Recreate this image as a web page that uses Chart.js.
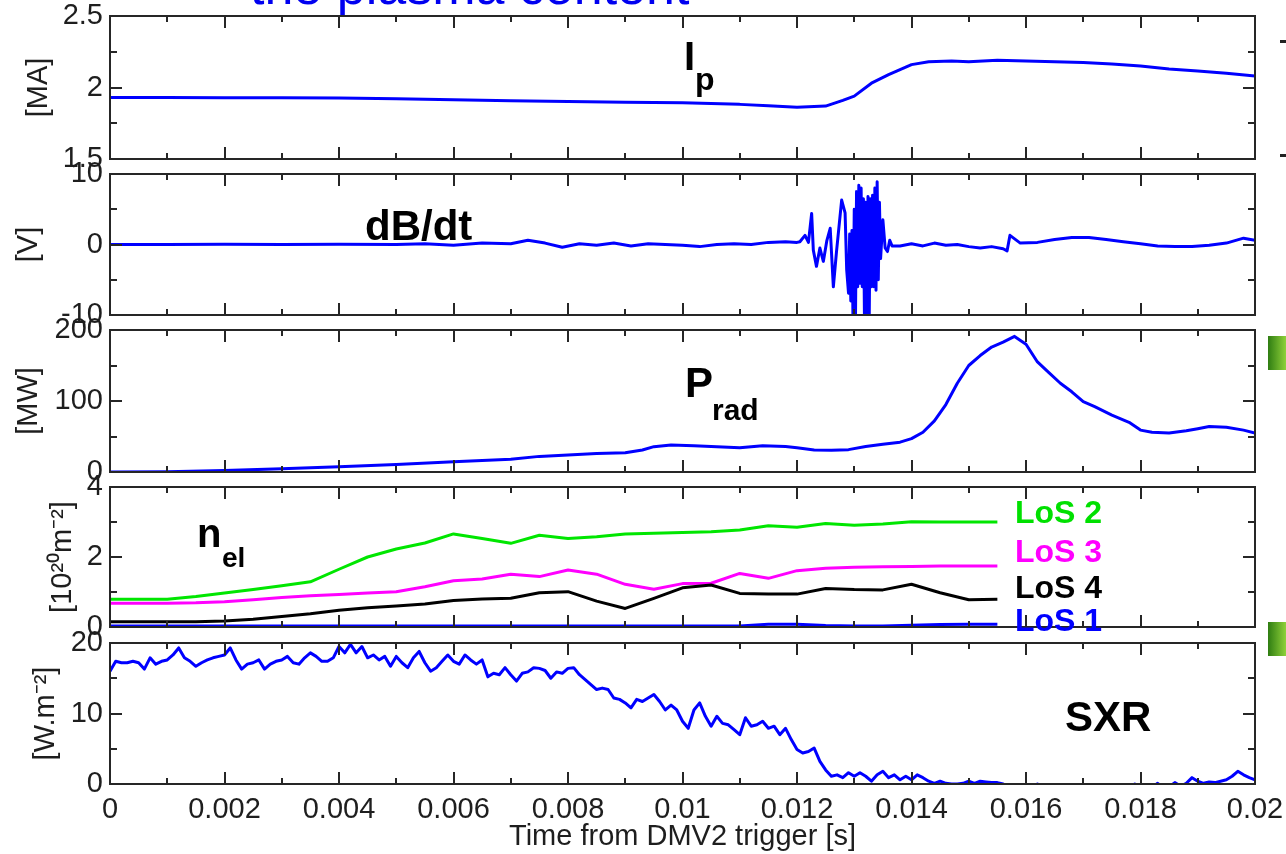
<!DOCTYPE html>
<html>
<head>
<meta charset="utf-8">
<title>DMV2 trigger traces</title>
<script src="https://cdn.jsdelivr.net/npm/chart.js@4.4.1/dist/chart.umd.min.js"></script>
<style>
  html, body { margin: 0; padding: 0; background: #fff; }
  #page { position: relative; width: 1286px; height: 854px; overflow: hidden; background: #fff; }
  #page canvas { position: absolute; left: 0; }
  .slideTitle { position: absolute; left: 250px; top: -40px; font: 52px/52px "Liberation Sans", Arial, sans-serif; color: #0000f0; white-space: nowrap; }
  .dash { position: absolute; left: 1280px; width: 6px; height: 3px; background: #222; }
  .greenTab { position: absolute; left: 1268px; width: 18px; height: 34px; background: linear-gradient(to right, #2f7d12, #8fd13a); }
</style>
</head>
<body>
<div id="page">
  <div class="slideTitle">the plasma content</div>
  <div class="dash" style="top:40px"></div>
  <div class="dash" style="top:154px"></div>
  <div class="greenTab" style="top:336px"></div>
  <div class="greenTab" style="top:622px"></div>
</div>
<script>
// time axis, shared by all panels
const xTickLabels = ["0", "0.002", "0.004", "0.006", "0.008", "0.01", "0.012", "0.014", "0.016", "0.018", "0.02"];

// plasma current
const ipTime = [0, 0.001, 0.002, 0.003, 0.004, 0.005, 0.006, 0.007, 0.008, 0.009, 0.010, 0.011, 0.0115, 0.012, 0.0125, 0.0128, 0.013, 0.0133, 0.0136, 0.014, 0.0143, 0.0147, 0.015, 0.0155, 0.016, 0.0165, 0.017, 0.0175, 0.018, 0.0185, 0.019, 0.0195, 0.020];
const ipCurrent = [1.93, 1.93, 1.929, 1.928, 1.926, 1.922, 1.915, 1.908, 1.902, 1.897, 1.893, 1.882, 1.872, 1.862, 1.87, 1.91, 1.94, 2.03, 2.09, 2.16, 2.18, 2.185, 2.18, 2.19, 2.185, 2.18, 2.175, 2.165, 2.15, 2.13, 2.115, 2.10, 2.08];
const ipTickValues = [1.5, 2, 2.5];
const ipTickLabels = ["1.5", "2", "2.5"];

// dB/dt pick-up coil
const dbdtTime = [0, 0.001, 0.002, 0.003, 0.004, 0.005, 0.0055, 0.006, 0.0065, 0.007, 0.0073, 0.0076, 0.0079, 0.0082, 0.0085, 0.0088, 0.0091, 0.0094, 0.0097, 0.010, 0.0103, 0.0106, 0.0109, 0.0112, 0.0115, 0.0118, 0.012,
  0.01205, 0.01214, 0.0122, 0.012256, 0.012285, 0.01234, 0.0124, 0.01246, 0.01252, 0.01258, 0.012635, 0.01269, 0.01278, 0.01284, 0.012868,
  0.0129, 0.01292, 0.01294, 0.01296, 0.01298, 0.0130, 0.01302, 0.01304, 0.01306, 0.01308, 0.0131, 0.01312, 0.01314, 0.01316, 0.01318, 0.0132, 0.01322, 0.01324, 0.01326, 0.01328, 0.0133, 0.01332, 0.01334, 0.01336, 0.01338, 0.0134, 0.01342, 0.01344, 0.01346, 0.0135, 0.01354, 0.01358, 0.01362, 0.01366,
  0.0138, 0.014, 0.0142, 0.0144, 0.0146, 0.0148, 0.015, 0.0152, 0.0154, 0.0156, 0.01567, 0.01572, 0.0159, 0.0162, 0.0165, 0.0168, 0.0171, 0.0174, 0.0177, 0.018, 0.0183, 0.0186, 0.0189, 0.0192, 0.0195, 0.0198, 0.020];
const dbdtVolt = [0, 0, 0.05, 0, 0.05, 0, 0.1, -0.1, 0.2, 0.1, 0.6, 0.2, -0.4, 0.1, -0.1, 0.2, -0.2, 0.1, 0, -0.1, -0.3, 0, 0.1, 0, 0.3, 0.4, 0.3,
  0.4, 1.3, 0.3, 4.4, -0.8, -3.1, -0.5, -2.4, 0.5, 2.3, -6.0, -1.0, 6.3, 4.5, -3.6,
  -6.9, 1.5, -8, 2.0, -12, 5, -12, 7.5, -6, 8.4, -5.5, 8, -6, 6.5, -12, 6, -12, 6.8, -12, 6.5, -6, 7, -6, 8, -6.5, 8.9, -5, 6, -2, 3.5, -0.5, -1.0, 0.6, -0.2,
  -0.2, 0.1, -0.2, 0.2, -0.1, 0, -0.3, -0.5, -0.3, -0.6, -0.9, 1.3, 0.2, 0.3, 0.7, 1.0, 1.0, 0.7, 0.4, 0.1, -0.2, -0.3, -0.3, -0.1, 0.2, 0.9, 0.6];
const dbdtTickValues = [-10, 0, 10];
const dbdtTickLabels = ["-10", "0", "10"];

// radiated power
const pradTime = [0, 0.001, 0.002, 0.003, 0.004, 0.005, 0.006, 0.007, 0.0075, 0.008, 0.0085, 0.009, 0.0093, 0.0095, 0.0098, 0.0102, 0.0106, 0.011, 0.0114, 0.0118, 0.012, 0.0123, 0.0126, 0.0129, 0.0132, 0.0135, 0.0138, 0.014, 0.0142, 0.0144, 0.0146, 0.0148, 0.015, 0.0152, 0.0154, 0.0156, 0.0158, 0.016, 0.0162, 0.0164, 0.0166, 0.0168, 0.017, 0.0172, 0.0175, 0.0178, 0.018, 0.0182, 0.0185, 0.0188, 0.019, 0.0192, 0.0195, 0.0198, 0.020];
const pradPower = [0, 0.5, 2, 4.5, 7.5, 10.5, 14.5, 18, 22, 24, 26, 27, 31, 35.7, 38, 37, 35.5, 34, 37, 36, 34, 31, 30.5, 31.5, 36, 39, 42, 47, 56, 72, 95, 125, 150, 164, 176, 183, 191, 180, 155, 140, 125, 113, 99, 92, 80, 70, 59, 56, 55, 58, 61, 64, 63, 59, 55];
const pradTickValues = [0, 100, 200];
const pradTickLabels = ["0", "100", "200"];

// line-integrated density, four lines of sight
const nelTime = [0, 0.0005, 0.001, 0.0015, 0.002, 0.0025, 0.003, 0.0035, 0.004, 0.0045, 0.005, 0.0055, 0.006, 0.0065, 0.007, 0.0075, 0.008, 0.0085, 0.009, 0.0095, 0.010, 0.0105, 0.011, 0.0115, 0.012, 0.0125, 0.013, 0.0135, 0.014, 0.0145, 0.015, 0.0155];
const los2 = [0.79, 0.79, 0.79, 0.87, 0.97, 1.07, 1.18, 1.29, 1.65, 2.0, 2.23, 2.4, 2.66, 2.53, 2.39, 2.62, 2.53, 2.58, 2.66, 2.68, 2.70, 2.72, 2.77, 2.89, 2.85, 2.96, 2.91, 2.94, 3.01, 3.0, 3.0, 3.0];
const los3 = [0.68, 0.68, 0.68, 0.69, 0.72, 0.78, 0.84, 0.89, 0.93, 0.97, 1.01, 1.15, 1.32, 1.37, 1.51, 1.44, 1.63, 1.51, 1.22, 1.08, 1.24, 1.25, 1.53, 1.39, 1.61, 1.68, 1.71, 1.72, 1.73, 1.74, 1.74, 1.74];
const los4 = [0.15, 0.15, 0.15, 0.15, 0.17, 0.22, 0.30, 0.38, 0.48, 0.55, 0.60, 0.66, 0.76, 0.80, 0.82, 0.98, 1.01, 0.74, 0.53, 0.82, 1.12, 1.20, 0.96, 0.94, 0.94, 1.10, 1.07, 1.06, 1.22, 0.98, 0.78, 0.79];
const los1 = [0.03, 0.03, 0.03, 0.03, 0.03, 0.03, 0.03, 0.03, 0.03, 0.03, 0.03, 0.03, 0.03, 0.03, 0.03, 0.03, 0.03, 0.03, 0.03, 0.03, 0.03, 0.03, 0.03, 0.08, 0.08, 0.04, 0.03, 0.03, 0.05, 0.07, 0.08, 0.08];
const nelTickValues = [0, 2, 4];
const nelTickLabels = ["0", "2", "4"];

// soft X-ray, sampled every 0.1 ms
const sxrStep = 0.0001;
const sxrSignal = [
  16.0, 17.4, 17.2, 17.2, 17.4, 17.2, 16.3, 17.9, 17.0, 17.4,
  17.6, 18.3, 19.3, 17.9, 17.4, 16.7, 17.2, 17.6, 17.9, 18.1,
  18.3, 19.3, 17.6, 16.3, 17.0, 17.2, 17.6, 16.3, 17.0, 17.4,
  17.6, 18.1, 17.2, 17.0, 17.9, 18.6, 18.1, 17.4, 17.4, 17.9,
  19.5, 18.6, 19.8, 18.6, 19.5, 17.9, 18.3, 17.6, 18.1, 16.7,
  18.1, 17.2, 16.5, 17.9, 18.8, 17.2, 16.0, 16.5, 17.4, 18.3,
  17.4, 17.0, 18.3, 17.6, 17.0, 17.6, 15.2, 15.7, 15.5, 16.5,
  15.5, 14.6, 15.7, 15.9, 16.5, 16.4, 16.1, 15.0, 15.9, 15.7,
  16.4, 16.5, 15.5, 14.8, 14.1, 13.4, 13.6, 13.4, 12.2, 12.0,
  11.5, 10.8, 12.0, 11.7, 12.2, 12.7, 11.7, 10.5, 11.2, 10.5,
  8.9, 7.9, 10.5, 11.5, 9.6, 8.2, 9.6, 8.6, 8.4, 7.7,
  7.0, 9.4, 8.2, 8.4, 8.9, 7.9, 8.2, 7.0, 7.9, 6.3,
  4.9, 4.4, 4.6, 5.1, 3.2, 2.0, 1.1, 1.3, 0.9, 1.6,
  1.1, 1.6, 1.1, 0.4, 1.3, 1.8, 0.9, 1.3, 0.6, 1.1,
  0.6, 1.3, 0.9, 0.4, 0.1, 0.4, 0.1, 0, 0, 0.1,
  0.4, 0.1, 0.4, 0.3, 0.2, 0.2, 0, -0.6, -0.4, -0.7,
  -0.5, -0.6, 0, -0.6, -0.8, -0.5, -0.7, -0.6, -0.8, -0.5,
  -0.6, -0.1, -0.6, -0.8, -0.5, -0.7, -0.6, -0.8, -0.5, 0,
  -0.6, -0.7, -0.5, 0.1, -0.6, -0.4, 0.2, -0.3, 0.1, 0.9,
  0.4, 0.1, 0.3, 0.2, 0.4, 0.6, 1.1, 1.8, 1.3, 0.9,
  0.6
];
const sxrTickValues = [0, 10, 20];
const sxrTickLabels = ["0", "10", "20"];

const FONT = '"Liberation Sans", Arial, sans-serif';
Chart.defaults.font.family = FONT;
Chart.defaults.color = "#1e1e1e";
Chart.defaults.animation = false;

const BLUE = "#0000ff";
const pts = (xs, ys) => xs.map((x, i) => ({ x: x, y: ys[i] }));

const panels = [
  {
    top: 16, bottom: 159, yMin: 1.5, yMax: 2.5, yStep: 0.25,
    tickValues: ipTickValues, tickLabels: ipTickLabels, unit: "[MA]", unitPad: 22,
    series: [{ data: pts(ipTime, ipCurrent), color: BLUE }],
    notes: [
      { text: "I", x: 684, y: 70, font: "bold 40px " + FONT },
      { text: "p", x: 695, y: 90, font: "bold 32px " + FONT }
    ]
  },
  {
    top: 174, bottom: 315, yMin: -10, yMax: 10, yStep: 5,
    tickValues: dbdtTickValues, tickLabels: dbdtTickLabels, unit: "[V]", unitPad: 12,
    series: [{ data: pts(dbdtTime, dbdtVolt), color: BLUE }],
    notes: [{ text: "dB/dt", x: 365, y: 240, font: "bold 42px " + FONT }]
  },
  {
    top: 330, bottom: 472, yMin: 0, yMax: 200, yStep: 50,
    tickValues: pradTickValues, tickLabels: pradTickLabels, unit: "[MW]", unitPad: 12,
    series: [{ data: pts(pradTime, pradPower), color: BLUE }],
    notes: [
      { text: "P", x: 685, y: 397, font: "bold 42px " + FONT },
      { text: "rad", x: 712, y: 420, font: "bold 30px " + FONT }
    ]
  },
  {
    top: 487, bottom: 627, yMin: 0, yMax: 4, yStep: 1,
    tickValues: nelTickValues, tickLabels: nelTickLabels, unit: "[10\u00b2\u2070m\u207b\u00b2]", unitPad: 46,
    series: [
      { data: pts(nelTime, los1), color: BLUE },
      { data: pts(nelTime, los4), color: "#000000" },
      { data: pts(nelTime, los3), color: "#ff00ff" },
      { data: pts(nelTime, los2), color: "#00e600" }
    ],
    notes: [
      { text: "n", x: 197, y: 547, font: "bold 40px " + FONT },
      { text: "el", x: 222, y: 567, font: "bold 28px " + FONT },
      { text: "LoS 2", x: 1015, y: 523, font: "bold 32px " + FONT, color: "#00e000" },
      { text: "LoS 3", x: 1015, y: 562, font: "bold 32px " + FONT, color: "#ff00ff" },
      { text: "LoS 4", x: 1015, y: 598, font: "bold 32px " + FONT, color: "#000000" },
      { text: "LoS 1", x: 1015, y: 631, font: "bold 32px " + FONT, color: "#0000ff" }
    ]
  },
  {
    top: 643, bottom: 784, yMin: 0, yMax: 20, yStep: 5,
    tickValues: sxrTickValues, tickLabels: sxrTickLabels, unit: "[W.m\u207b\u00b2]", unitPad: 29,
    series: [{ data: sxrSignal.map((v, i) => ({ x: i * sxrStep, y: v })), color: BLUE }],
    notes: [{ text: "SXR", x: 1065, y: 731, font: "bold 42px " + FONT }],
    last: true
  }
];

// inward tick marks + box frame, as in the original plot
const frameTicks = {
  id: "frameTicks",
  afterDatasetsDraw(chart) {
    const { ctx, chartArea: a } = chart;
    const x = chart.scales.x, y = chart.scales.y;
    ctx.save();
    ctx.strokeStyle = "#262626";
    ctx.lineWidth = 2;
    ctx.beginPath();
    for (let i = 0; i <= 20; i++) {
      const px = Math.round(x.getPixelForValue(i * 0.001));
      const len = i % 2 === 0 ? 12 : 6;
      ctx.moveTo(px, a.bottom); ctx.lineTo(px, a.bottom - len);
      ctx.moveTo(px, a.top); ctx.lineTo(px, a.top + len);
    }
    y.ticks.forEach((t) => {
      const py = Math.round(y.getPixelForValue(t.value));
      const len = t.label !== "" ? 12 : 7;
      ctx.moveTo(a.left, py); ctx.lineTo(a.left + len, py);
      ctx.moveTo(a.right, py); ctx.lineTo(a.right - len, py);
    });
    ctx.stroke();
    ctx.strokeRect(a.left, a.top, a.right - a.left, a.bottom - a.top);
    ctx.restore();
  },
  afterDraw(chart, args, opts) {
    const ctx = chart.ctx;
    ctx.save();
    ctx.textBaseline = "alphabetic";
    ctx.textAlign = "left";
    (opts.notes || []).forEach((n) => {
      ctx.font = n.font;
      ctx.fillStyle = n.color || "#000";
      ctx.fillText(n.text, n.x, n.y - opts.canvasTop);
    });
    ctx.restore();
  }
};

const page = document.getElementById("page");

panels.forEach((p) => {
  const padTop = 20;
  const padBottom = p.last ? 0 : 20;
  const axisH = p.last ? 70 : 0;
  const canvasTop = p.top - padTop;
  const canvas = document.createElement("canvas");
  canvas.width = 1286;
  canvas.height = padTop + (p.bottom - p.top) + padBottom + axisH;
  canvas.style.top = canvasTop + "px";
  canvas.style.width = "1286px";
  canvas.style.height = canvas.height + "px";
  page.appendChild(canvas);

  const labelFor = (v) => {
    const k = p.tickValues.findIndex((t) => Math.abs(t - v) < 1e-9);
    return k >= 0 ? p.tickLabels[k] : "";
  };

  new Chart(canvas, {
    type: "line",
    data: {
      datasets: p.series.map((s) => ({
        data: s.data,
        borderColor: s.color,
        backgroundColor: s.color,
        borderWidth: 3,
        borderJoinStyle: "round",
        pointRadius: 0,
        tension: 0,
        fill: false
      }))
    },
    options: {
      responsive: false,
      animation: false,
      layout: { padding: { left: 0, right: 31, top: padTop, bottom: padBottom } },
      plugins: {
        legend: { display: false },
        tooltip: { enabled: false },
        frameTicks: { notes: p.notes, canvasTop: canvasTop }
      },
      scales: {
        x: {
          type: "linear",
          min: 0,
          max: 0.02,
          display: !!p.last,
          grid: { display: false, drawTicks: false },
          border: { display: false },
          ticks: {
            stepSize: 0.001,
            autoSkip: false,
            maxRotation: 0,
            maxTicksLimit: 50,
            padding: 9,
            color: "#1e1e1e",
            font: { size: 29 },
            callback(v) {
              const k = Math.round(v / 0.001);
              return k % 2 === 0 ? xTickLabels[k / 2] : "";
            }
          },
          title: {
            display: !!p.last,
            text: "Time from DMV2 trigger [s]",
            color: "#1e1e1e",
            font: { size: 29 },
            padding: { top: 0, bottom: 0 }
          },
          afterFit(scale) {
            if (p.last) scale.height = axisH;
            scale.paddingLeft = 0;
            scale.paddingRight = 0;
          }
        },
        y: {
          type: "linear",
          min: p.yMin,
          max: p.yMax,
          grid: { display: false, drawTicks: false },
          border: { display: false },
          ticks: {
            stepSize: p.yStep,
            autoSkip: false,
            padding: 7,
            color: "#1e1e1e",
            font: { size: 29 },
            callback: (v) => labelFor(v)
          },
          title: {
            display: true,
            text: p.unit,
            color: "#1e1e1e",
            font: { size: 29 },
            padding: { top: p.unitPad, bottom: 0 }
          },
          afterFit(scale) {
            scale.width = 110;
            scale.paddingTop = 0;
            scale.paddingBottom = 0;
          }
        }
      }
    },
    plugins: [frameTicks]
  });
});
</script>
</body>
</html>
